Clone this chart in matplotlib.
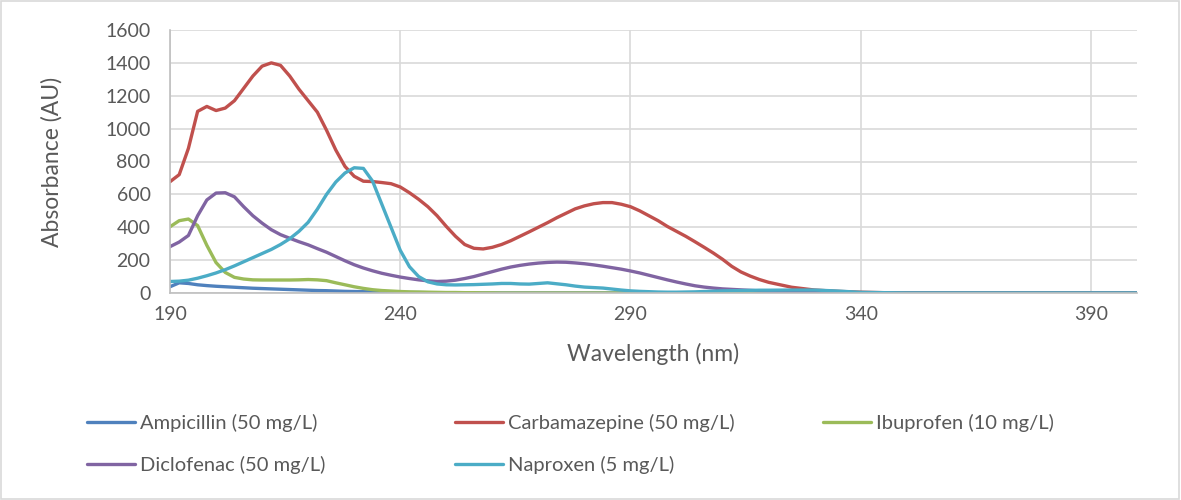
import matplotlib
matplotlib.use('Agg')
import matplotlib.pyplot as plt
from matplotlib.patches import Rectangle

# wavelengths: every 2 nm up to 320, then every 5 nm
wavelength = list(range(190, 322, 2)) + list(range(325, 405, 5))

ampicillin = [38, 62, 58, 50, 45, 41, 38, 35, 32, 29, 27, 25, 23, 21, 19, 17,
              15, 14, 12, 10, 9, 8, 7, 6, 5, 4, 3, 3, 2, 2, 1,
              1, 1, 0, 0, 0, 0, 0, 0, 0, 0, 0, 0, 0, 0, 0, 0, 0, 0, 0, 0,
              0, 0, 0, 0, 0, 0, 0, 0, 0, 0, 0, 0, 0, 0, 0,
              0, 0, 0, 0, 0, 0, 0, 0, 0, 0, 0, 0, 0, 0, 0, 0]
carbamazepine = [677, 720, 880, 1105, 1135, 1110, 1125, 1170, 1245, 1320, 1380,
                 1400, 1385, 1320, 1240, 1170, 1100, 990, 870, 770, 710, 680,
                 678, 672, 665, 645, 610, 570, 525, 470, 405,
                 345, 295, 272, 268, 278, 295, 318, 345, 372, 400, 428, 458,
                 485, 512, 530, 543, 550, 550, 540, 525, 500, 470, 440, 405,
                 375, 345, 312, 278, 243, 205, 162, 128, 103, 82, 65,
                 35, 18, 10, 5, 2, 0, 0, 0, 0, 0, 0, 0, 0, 0, 0, 0]
ibuprofen = [403, 440, 450, 410, 290, 185, 125, 95, 85, 80, 79, 79, 79, 79, 80,
             82, 80, 75, 62, 50, 38, 28, 20, 15, 12, 9, 7, 6, 5, 4, 3,
             3, 2, 2, 1, 1, 0, 0, 0, 0, 0, 0, 0, 0, 0, 0, 0, 0, 0, 0, 0,
             0, 0, 0, 0, 0, 0, 0, 0, 0, 0, 0, 0, 0, 0, 0,
             0, 0, 0, 0, 0, 0, 0, 0, 0, 0, 0, 0, 0, 0, 0, 0]
diclofenac = [282, 310, 350, 470, 566, 608, 610, 585, 525, 470, 425, 385, 355,
              333, 312, 293, 270, 248, 222, 196, 172, 152, 135, 120, 108, 97,
              88, 80, 74, 70, 72,
              78, 88, 100, 115, 130, 145, 158, 168, 176, 182, 186, 188, 187,
              183, 178, 171, 163, 154, 145, 134, 122, 108, 94, 80, 67, 55, 44,
              36, 30, 25, 22, 19, 16, 13, 11,
              6, 3, 1, 0, 0, 0, 0, 0, 0, 0, 0, 0, 0, 0, 0, 0]
naproxen = [70, 72, 78, 90, 105, 122, 142, 165, 190, 215, 240, 265, 295, 330,
            375, 430, 510, 600, 675, 730, 762, 758, 680, 540, 400, 260, 160,
            100, 68, 55, 50,
            49, 50, 51, 53, 55, 58, 58, 55, 54, 58, 62, 56, 50, 42, 36, 33,
            30, 24, 18, 13, 10, 8, 6, 5, 5, 6, 7, 9, 11, 13, 14, 15, 16, 17, 17,
            18, 18, 12, 4, 2, 0, 0, 0, 0, 0, 0, 0, 0, 0, 0, 0]

series = [
    ('Ampicillin (50 mg/L)', ampicillin, '#4F81BD'),
    ('Carbamazepine (50 mg/L)', carbamazepine, '#C0504D'),
    ('Ibuprofen (10 mg/L)', ibuprofen, '#9BBB59'),
    ('Diclofenac (50 mg/L)', diclofenac, '#8064A2'),
    ('Naproxen (5 mg/L)', naproxen, '#4BACC6'),
]

plt.rcParams['font.family'] = ['Lato', 'DejaVu Sans']
txt = '#595959'
grid = '#D9D9D9'

fig = plt.figure(figsize=(11.81, 5.0), dpi=100)
ax = fig.add_axes([170 / 1181, 1 - 293 / 500, (1137 - 170) / 1181, (293 - 30) / 500])

lines = []
for name, vals, col in series:
    ln, = ax.plot(wavelength, vals, color=col, lw=2.4, label=name, solid_capstyle='round')
    lines.append(ln)

ax.set_xlim(190, 400)
ax.set_ylim(0, 1600)
ax.set_xticks(range(190, 400, 50))
ax.set_yticks(range(0, 1601, 200))
ax.grid(True, color=grid, lw=1.2)
ax.set_axisbelow(True)
for s in ['top', 'right']:
    ax.spines[s].set_visible(False)
for s in ['left', 'bottom']:
    ax.spines[s].set_color('#BFBFBF')
    ax.spines[s].set_linewidth(1.2)
ax.tick_params(axis='both', length=0, labelsize=14, labelcolor=txt)
ax.tick_params(axis='y', pad=14)
ax.tick_params(axis='x', pad=9)
ax.set_xlabel('Wavelength (nm)', fontsize=16.5, color=txt, labelpad=15)
ax.set_ylabel('Absorbance (AU)', fontsize=16.5, color=txt, labelpad=31)

# legend in three equal-width columns, filled row by row like Excel
cols = [[0, 3], [1, 4], [2]]
col_x = [87, 455, 823]
for idx, x0 in zip(cols, col_x):
    fig.legend([lines[i] for i in idx], [series[i][0] for i in idx],
               loc='upper left', bbox_to_anchor=(x0 / 1181, 1 - 414 / 500),
               frameon=False, fontsize=14.5, handlelength=2.4,
               handletextpad=0.25, labelspacing=1.2, borderpad=0,
               borderaxespad=0, labelcolor=txt)

fig.add_artist(Rectangle((0.001, 0.002), 0.997, 0.996, transform=fig.transFigure,
                         fill=False, edgecolor=grid, lw=1.2))

fig.savefig('out.png', dpi=100)
